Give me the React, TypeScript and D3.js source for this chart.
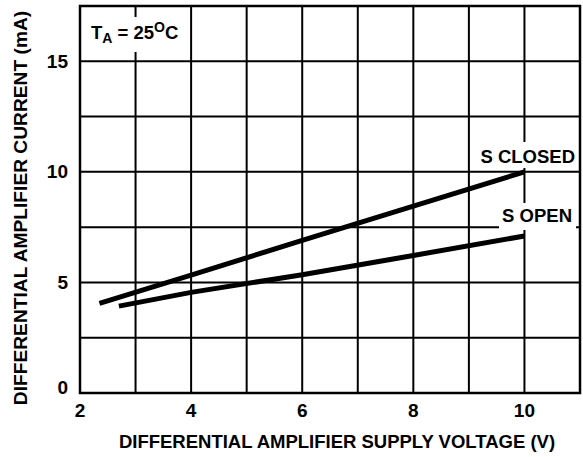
import React from 'react'
import * as d3 from 'd3'

// values
const voltageClosed = [2.35, 4, 6, 8, 10]
const currentClosed = [4.05, 5.33, 6.9, 8.45, 10.0]
const voltageOpen = [2.7, 4, 6, 8, 10]
const currentOpen = [3.93, 4.55, 5.35, 6.22, 7.1]

const xTicks = [2, 4, 6, 8, 10]
const yTicks = [0, 5, 10, 15]
const xGrid = [3, 4, 5, 6, 7, 8, 9, 10]
const yGrid = [2.5, 5, 7.5, 10, 12.5, 15]

const W = 583
const H = 457
const margin = { top: 6, right: 3, bottom: 64, left: 80 }
const font = '"Liberation Sans", Arial, Helvetica, sans-serif'
const fs = 18.5

export default function App() {
  const x = d3.scaleLinear().domain([2, 11]).range([margin.left, W - margin.right])
  const y = d3.scaleLinear().domain([0, 17.5]).range([H - margin.bottom, margin.top])

  const line = d3.line<[number, number]>().x(d => x(d[0])).y(d => y(d[1]))
  const closed = voltageClosed.map((v, i) => [v, currentClosed[i]] as [number, number])
  const open = voltageOpen.map((v, i) => [v, currentOpen[i]] as [number, number])

  const x0 = x.range()[0], x1 = x.range()[1]
  const y0 = y.range()[0], y1 = y.range()[1]

  return (
    <svg width={W} height={H} style={{ position: 'absolute', left: 0, top: 0, background: '#fff' }}
      fontFamily={font} fontWeight="bold">
      {/* grid */}
      {xGrid.map(v => (
        <line key={'gx' + v} x1={x(v)} x2={x(v)} y1={y0} y2={y1} stroke="#000" strokeWidth={2} />
      ))}
      {yGrid.map(v => (
        <line key={'gy' + v} x1={x0} x2={x1} y1={y(v)} y2={y(v)} stroke="#000" strokeWidth={2} />
      ))}
      <rect x={x0} y={y1} width={x1 - x0} height={y0 - y1} fill="none" stroke="#000" strokeWidth={2.5} />

      {/* label knockouts */}
      <rect x={86} y={17} width={102} height={35} fill="#fff" />
      <rect x={476} y={142} width={102} height={26} fill="#fff" />
      <rect x={499} y={203} width={77} height={27} fill="#fff" />

      {/* curves */}
      <path d={line(closed) ?? ''} fill="none" stroke="#000" strokeWidth={5} />
      <path d={line(open) ?? ''} fill="none" stroke="#000" strokeWidth={5} />

      {/* ticks */}
      {yTicks.map(v => (
        <text key={'ty' + v} x={x0 - 12} y={y(v) - (v === 0 ? 6 : 0)} textAnchor="end"
          dominantBaseline="central" fontSize={19}>{v}</text>
      ))}
      {xTicks.map(v => (
        <text key={'tx' + v} x={x(v)} y={y0 + 24} textAnchor="middle" fontSize={19}>{v}</text>
      ))}

      {/* annotations */}
      <text x={91} y={39} fontSize={fs}>
        T<tspan fontSize={14} dy={4}>A</tspan>
        <tspan dy={-4}> = 25</tspan>
        <tspan fontSize={14} dy={-7}>O</tspan>
        <tspan dy={7}>C</tspan>
      </text>
      <text x={575} y={163} textAnchor="end" fontSize={fs}>S CLOSED</text>
      <text x={572} y={222} textAnchor="end" fontSize={fs}>S OPEN</text>

      {/* axis titles */}
      <text x={337} y={448} textAnchor="middle" fontSize={fs}>
        DIFFERENTIAL AMPLIFIER SUPPLY VOLTAGE (V)
      </text>
      <text transform="translate(27,208) rotate(-90)" textAnchor="middle" fontSize={19.2}>
        DIFFERENTIAL AMPLIFIER CURRENT (mA)
      </text>
    </svg>
  )
}
